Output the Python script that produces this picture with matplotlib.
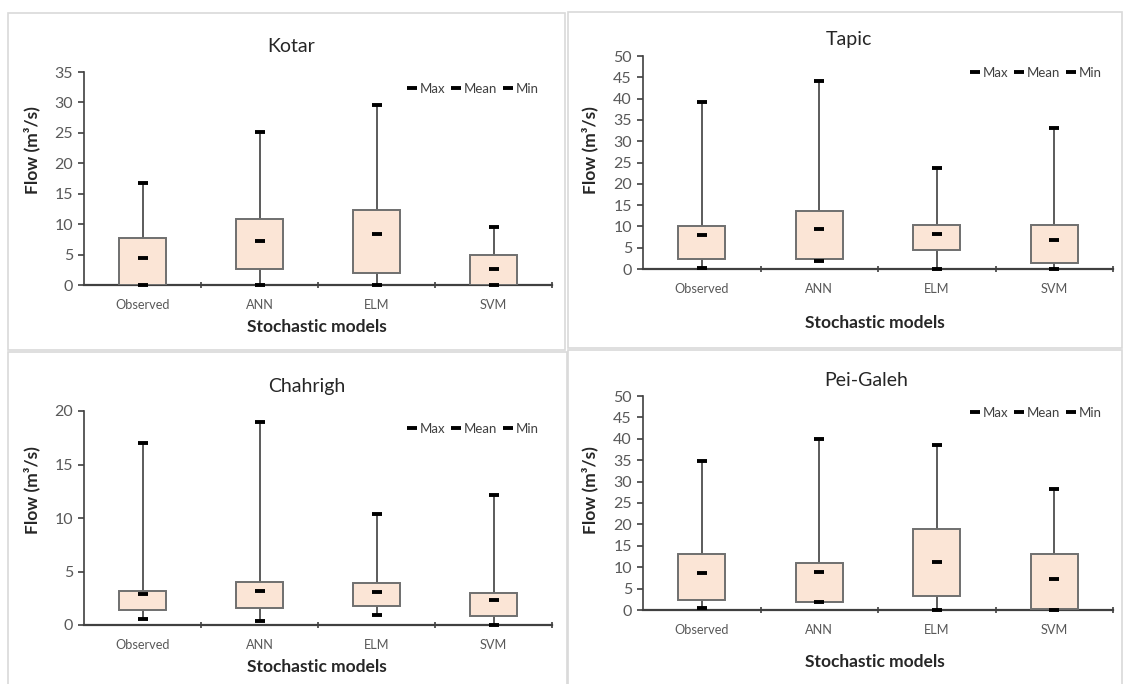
import matplotlib.pyplot as plt
from matplotlib.lines import Line2D
from matplotlib.patches import Rectangle

plt.switch_backend('agg')
plt.rcParams['font.family'] = ['Lato', 'DejaVu Sans']

W, H = 1123, 684

# Data
models = ['Observed', 'ANN', 'ELM', 'SVM']

kotar_q1 = [0.0, 2.7, 2.0, 0.0]
kotar_q3 = [7.8, 10.8, 12.4, 4.9]
kotar_mean = [4.4, 7.2, 8.4, 2.7]
kotar_max = [16.7, 25.1, 29.5, 9.6]
kotar_min = [0.0, 0.0, 0.0, 0.0]

tapic_q1 = [2.3, 2.3, 4.4, 1.3]
tapic_q3 = [10.0, 13.6, 10.4, 10.4]
tapic_mean = [8.0, 9.5, 8.3, 6.85]
tapic_max = [39.2, 44.2, 23.7, 33.2]
tapic_min = [0.2, 1.9, 0.0, 0.0]

chahrigh_q1 = [1.4, 1.55, 1.75, 0.85]
chahrigh_q3 = [3.2, 4.0, 3.9, 3.0]
chahrigh_mean = [2.86, 3.2, 3.07, 2.3]
chahrigh_max = [17.0, 19.0, 10.4, 12.15]
chahrigh_min = [0.56, 0.37, 0.9, 0.0]

peigaleh_q1 = [2.25, 1.95, 3.2, 0.3]
peigaleh_q3 = [13.2, 11.0, 19.0, 13.2]
peigaleh_mean = [8.6, 8.9, 11.2, 7.2]
peigaleh_max = [34.9, 40.0, 38.6, 28.3]
peigaleh_min = [0.4, 1.95, 0.0, 0.0]

# Style
box_fill = '#fbe5d6'
box_edge = '#6f6f6f'
whisker_color = '#404040'
axis_color = '#404040'
tick_color = '#595959'


def fx(px):
    return px / W


def fy(py):
    return 1 - py / H


def draw_panel(fig, rect_px, frame_px, ylim, ystep, title, title_xy, xlabel_xy, ylabel_xy, legend_xy,
               q1, q3, mean, vmax, vmin):
    # light grey chart frame
    x0, y0, x1, y1 = frame_px
    fig.patches.append(Rectangle((fx(x0), fy(y1)), fx(x1 - x0), (y1 - y0) / H, transform=fig.transFigure,
                                 fill=False, edgecolor='#d9d9d9', linewidth=1.2, zorder=0))

    left, top, right, bottom = rect_px
    ax = fig.add_axes([fx(left), fy(bottom), fx(right - left), (bottom - top) / H])
    pos = list(range(1, len(models) + 1))

    ax.vlines(pos, vmin, vmax, color=whisker_color, linewidth=1.2, zorder=2)
    heights = [b - a for a, b in zip(q1, q3)]
    ax.bar(pos, heights, bottom=q1, width=0.4, color=box_fill, edgecolor=box_edge, linewidth=1.4, zorder=3)
    for vals in (vmax, vmin, mean):
        ax.plot(pos, vals, linestyle='none', marker='_', markersize=7.5, markeredgewidth=2.8, color='black',
                zorder=4, clip_on=False)

    ax.set_xlim(0.5, len(models) + 0.5)
    ax.set_ylim(*ylim)
    ax.set_yticks(range(ylim[0], ylim[1] + 1, ystep))
    ax.set_xticks(pos)
    ax.set_xticklabels(models)
    ax.set_xticks([p + 0.5 for p in pos], minor=True)
    ax.tick_params(axis='x', which='major', length=0, pad=10, labelsize=9.2, labelcolor=tick_color)
    ax.tick_params(axis='x', which='minor', length=5, direction='inout', color=axis_color, width=1.2)
    ax.tick_params(axis='y', length=4, direction='out', color=axis_color, width=1.2, labelsize=11.5,
                   labelcolor=tick_color, pad=4)

    for side in ('top', 'right'):
        ax.spines[side].set_visible(False)
    ax.spines['left'].set_color(axis_color)
    ax.spines['left'].set_linewidth(1.2)
    ax.spines['bottom'].set_color(axis_color)
    ax.spines['bottom'].set_linewidth(1.6)

    fig.text(fx(title_xy[0]), fy(title_xy[1]), title, ha='center', va='center', fontsize=14, color='#262626')
    fig.text(fx(xlabel_xy[0]), fy(xlabel_xy[1]), 'Stochastic models', ha='center', va='center', fontsize=12.5,
             fontweight='bold', color='#262626')
    fig.text(fx(ylabel_xy[0]), fy(ylabel_xy[1]), 'Flow (m³/s)', ha='center', va='center', fontsize=12.5,
             fontweight='bold', color='#262626', rotation=90)

    handles = [Line2D([], [], linestyle='none', marker='_', markersize=7, markeredgewidth=2.8, color='black')
               for _ in range(3)]
    fig.legend(handles, ['Max', 'Mean', 'Min'], loc='center', bbox_to_anchor=(fx(legend_xy[0]), fy(legend_xy[1])),
               ncol=3, frameon=False, fontsize=9.5, handlelength=0.7, handletextpad=0.2, columnspacing=0.5,
               labelcolor='#404040', borderpad=0)
    return ax


fig = plt.figure(figsize=(W / 100, H / 100), dpi=100)

draw_panel(fig, (84, 72, 552, 285), (8, 13, 565, 350), (0, 35), 5, 'Kotar',
           (291, 46), (317, 327), (32, 150), (473, 89),
           kotar_q1, kotar_q3, kotar_mean, kotar_max, kotar_min)

draw_panel(fig, (643, 56, 1113, 269), (568, 12, 1122, 348), (0, 50), 5, 'Tapic',
           (849, 40), (875, 323), (590, 150), (1036, 73),
           tapic_q1, tapic_q3, tapic_mean, tapic_max, tapic_min)

draw_panel(fig, (84, 411, 552, 625), (8, 352, 567, 690), (0, 20), 5, 'Chahrigh',
           (307, 386), (317, 667), (32, 490), (473, 429),
           chahrigh_q1, chahrigh_q3, chahrigh_mean, chahrigh_max, chahrigh_min)

draw_panel(fig, (643, 396, 1113, 610), (568, 350, 1122, 690), (0, 50), 5, 'Pei-Galeh',
           (866, 380), (875, 662), (590, 490), (1036, 413),
           peigaleh_q1, peigaleh_q3, peigaleh_mean, peigaleh_max, peigaleh_min)

fig.savefig('out.png', dpi=100)
